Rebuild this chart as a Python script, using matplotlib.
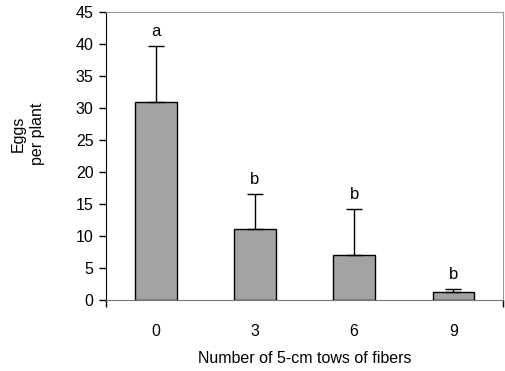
import matplotlib
matplotlib.use("Agg")
import matplotlib.pyplot as plt

# ---------- DATA ----------
categories = ["0", "3", "6", "9"]
means = [30.9, 11.1, 7.1, 1.2]
upper_err = [8.8, 5.4, 7.1, 0.55]
letters = ["a", "b", "b", "b"]

plt.rcParams['font.family'] = ['Liberation Sans', 'DejaVu Sans']
FS = 11.5

fig = plt.figure(figsize=(5.05, 3.71), dpi=100)
ax = fig.add_axes([0.21, 0.191, 0.786, 0.777])

x = list(range(len(categories)))
ax.bar(x, means, width=0.42, color='#a3a3a3', edgecolor='black', linewidth=1.0, zorder=2)
ax.errorbar(x, means, yerr=[[0] * len(means), upper_err], fmt='none',
            ecolor='black', elinewidth=1.0, capsize=6, capthick=1.0, zorder=3)

for xi, m, e, lab in zip(x, means, upper_err, letters):
    ax.text(xi, m + e + 1.6, lab, ha='center', va='baseline', fontsize=FS + 0.5)

ax.set_xlim(-0.5, 3.5)
ax.set_ylim(0, 45)
ax.set_yticks(range(0, 46, 5))
ax.set_xticks(x)
ax.set_xticklabels(categories, fontsize=FS)
ax.tick_params(axis='y', labelsize=FS, direction='out', length=5, width=1, pad=4)
ax.tick_params(axis='x', length=0, pad=17)
ax.set_xticks([-0.5, 3.5], minor=True)
ax.tick_params(axis='x', which='minor', length=5, width=1, direction='out', color='black')

ax.spines['left'].set_color('black')
ax.spines['bottom'].set_color('#777777')
ax.spines['top'].set_color('#999999')
ax.spines['right'].set_color('#999999')
for s in ['top', 'right', 'bottom']:
    ax.spines[s].set_linewidth(0.8)

ax.set_xlabel("Number of 5-cm tows of fibers", fontsize=FS, labelpad=9)
fig.text(0.055, 0.639, "Eggs\nper plant", rotation=90, ha='center', va='center',
         fontsize=FS, multialignment='center', linespacing=1.3)

fig.savefig("out.png", dpi=100)
